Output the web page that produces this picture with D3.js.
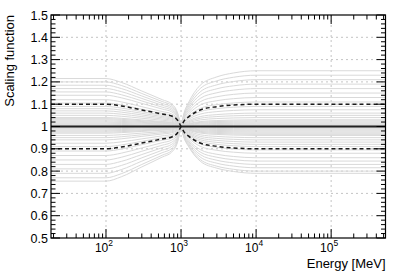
<!DOCTYPE html>
<html>
<head>
<meta charset="utf-8">
<script src="https://cdn.jsdelivr.net/npm/d3@7"></script>
<style>
  body { margin: 0; background: #fff; }
  svg { display: block; font-family: "Liberation Sans", Arial, sans-serif; }
</style>
</head>
<body>
<svg id="chart" width="399" height="274"></svg>
<script>
// ---- data ----
// values of each grey curve below 100 MeV and above 10 GeV
var lowVals  = [1.215,1.20,1.185,1.17,1.155,1.14,1.12,1.105,1.09,1.08,1.07,1.06,1.05,1.04,1.035,1.03,1.025,1.02,1.015,1.01,1.005,
                0.995,0.99,0.985,0.98,0.975,0.97,0.96,0.95,0.94,0.925,0.91,0.89,0.87,0.85,0.83,0.81,0.79,0.77,0.755];
var highVals = [0.79,0.80,0.815,0.83,0.845,0.86,0.88,0.895,0.91,0.92,0.93,0.94,0.95,0.96,0.965,0.97,0.975,0.98,0.985,0.99,0.995,
                1.005,1.01,1.015,1.02,1.025,1.03,1.04,1.05,1.06,1.075,1.09,1.11,1.13,1.15,1.17,1.19,1.21,1.23,1.25];
// dashed bracketing curves
var dashLow  = [1.1, 0.9];
var dashHigh = [0.9, 1.1];
// shape of the transition
var profileE  = [18.5, 100, 160, 300, 560, 750, 900, 1000, 1100, 1250, 1800, 3000, 5000, 10000, 5.3e5];
var lowFrac   = [1, 1, 0.92, 0.74, 0.56, 0.47, 0.28, 0, 0, 0, 0, 0, 0, 0, 0];
var highFrac  = [0, 0, 0, 0, 0, 0, 0, 0, 0.25, 0.42, 0.74, 0.89, 0.96, 1, 1];

var yTicks = [0.5,0.6,0.7,0.8,0.9,1,1.1,1.2,1.3,1.4,1.5];
var xMajor = [100, 1000, 10000, 100000];
var xExp   = ["2", "3", "4", "5"];

// ---- layout ----
var svg = d3.select('#chart');
var L = 51, R = 385.5, T = 15, B = 238;

var x = d3.scaleLog().domain([18.5, 5.3e5]).range([L, R]);
var y = d3.scaleLinear().domain([0.5, 1.5]).range([B, T]);

function curvePoints(vl, vh){
  return profileE.map(function(e, i){
    return [e, 1 + (vl - 1)*lowFrac[i] + (vh - 1)*highFrac[i]];
  });
}

var line = d3.line()
  .x(function(d){ return x(d[0]); })
  .y(function(d){ return y(d[1]); })
  .curve(d3.curveMonotoneX);

// grid
var grid = svg.append('g');
xMajor.forEach(function(v){
  grid.append('line')
    .attr('x1', x(v)).attr('x2', x(v)).attr('y1', T).attr('y2', B)
    .attr('stroke', '#c4c4c4').attr('stroke-dasharray', '2,3');
});
yTicks.slice(1, -1).forEach(function(v){
  grid.append('line')
    .attr('x1', L).attr('x2', R).attr('y1', y(v)).attr('y2', y(v))
    .attr('stroke', '#c4c4c4').attr('stroke-dasharray', '2,3');
});

// grey curves
var curves = svg.append('g');
lowVals.forEach(function(v, i){
  curves.append('path')
    .attr('d', line(curvePoints(v, highVals[i])))
    .attr('fill', 'none').attr('stroke', '#d9d9d9').attr('stroke-width', 1);
});

// nominal
svg.append('path')
  .attr('d', line([[18.5, 1], [5.3e5, 1]]))
  .attr('stroke', '#222').attr('stroke-width', 2.2);

// dashed
dashLow.forEach(function(v, i){
  svg.append('path')
    .attr('d', line(curvePoints(v, dashHigh[i])))
    .attr('fill', 'none').attr('stroke', '#1a1a1a').attr('stroke-width', 1.5)
    .attr('stroke-dasharray', '4,3');
});

// frame
svg.append('rect')
  .attr('x', L).attr('y', T).attr('width', R - L).attr('height', B - T)
  .attr('fill', 'none').attr('stroke', '#000').attr('stroke-width', 1.2);

// ticks
var tk = svg.append('g').attr('stroke', '#000').attr('stroke-width', 1);
d3.range(0.5, 1.5001, 0.02).forEach(function(v){
  var major = Math.abs(Math.round(v*10) - v*10) < 1e-6;
  var len = major ? 9 : 4.5;
  tk.append('line').attr('x1', L).attr('x2', L + len).attr('y1', y(v)).attr('y2', y(v));
  tk.append('line').attr('x1', R).attr('x2', R - len).attr('y1', y(v)).attr('y2', y(v));
});
[10, 100, 1000, 10000, 100000].forEach(function(dec){
  for(var k = 1; k < 10; k++){
    var v = dec*k;
    if(v < x.domain()[0] || v > x.domain()[1]) continue;
    var len = k == 1 ? 9 : 4.5;
    tk.append('line').attr('x1', x(v)).attr('x2', x(v)).attr('y1', B).attr('y2', B - len);
    tk.append('line').attr('x1', x(v)).attr('x2', x(v)).attr('y1', T).attr('y2', T + len);
  }
});

// y tick labels
svg.append('g').selectAll('text').data(yTicks).enter().append('text')
  .attr('x', L - 3).attr('y', function(d){ return y(d) + 4.5; })
  .attr('text-anchor', 'end').attr('font-size', 12.5).attr('fill', '#000')
  .text(function(d){ return d3.format('~g')(d); });

// x tick labels
var xl = svg.append('g').selectAll('text').data(xMajor).enter().append('text')
  .attr('x', function(d){ return x(d) - 2; }).attr('y', 252)
  .attr('text-anchor', 'middle').attr('font-size', 12).attr('fill', '#000');
xl.append('tspan').text('10');
xl.append('tspan').attr('dy', -6).attr('font-size', 8.5)
  .text(function(d, i){ return xExp[i]; });

// axis titles
svg.append('text')
  .attr('x', R).attr('y', 268)
  .attr('text-anchor', 'end').attr('font-size', 13).attr('fill', '#000')
  .text('Energy [MeV]');
svg.append('text')
  .attr('transform', 'translate(14,' + T + ') rotate(-90)')
  .attr('text-anchor', 'end').attr('font-size', 13).attr('fill', '#000')
  .text('Scaling function');
</script>
</body>
</html>
